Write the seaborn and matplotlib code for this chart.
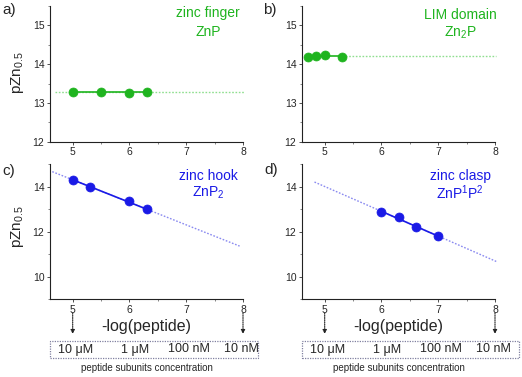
import numpy as np
import pandas as pd
import matplotlib
matplotlib.use("Agg")
import matplotlib.pyplot as plt
from matplotlib.patches import Rectangle
from matplotlib.ticker import MultipleLocator
import seaborn as sns

# ---------------- data ----------------
a_x = [5.0, 5.5, 6.0, 6.3]
a_y = [13.28, 13.28, 13.25, 13.27]
b_x = [4.7, 4.85, 5.0, 5.3]
b_y = [14.18, 14.22, 14.24, 14.18]
c_x = [5.0, 5.3, 6.0, 6.3]
c_y = [14.29, 13.98, 13.36, 13.0]
d_x = [6.0, 6.3, 6.6, 7.0]
d_y = [12.87, 12.63, 12.2, 11.8]

a_fit_solid = ([5.0, 6.3], [13.27, 13.27])
a_fit_dot = ([4.68, 8.02], [13.27, 13.27])
b_fit_solid = ([4.7, 5.3], [14.2, 14.2])
b_fit_dot = ([5.3, 8.02], [14.2, 14.2])
c_fit_solid = ([5.0, 6.3], [14.3, 13.0])
c_fit_dot = ([4.64, 7.94], [14.66, 11.36])
d_fit_solid = ([6.0, 7.0], [12.9, 11.8])
d_fit_dot = ([4.82, 8.03], [14.2, 10.67])

titles_a = ["zinc finger", "ZnP"]
titles_b = ["LIM domain", r"Zn$_2$P"]
titles_c = ["zinc hook", r"ZnP$_2$"]
titles_d = ["zinc clasp", r"ZnP$^{\it{1}}$P$^2$"]
panel_labels = ["a)", "b)", "c)", "d)"]

conc_labels = ["10 \u03bcM", "1 \u03bcM", "100 nM", "10 nM"]
conc_pos = [5.05, 6.1, 7.05, 7.98]
xticks = [5, 6, 7, 8]

GREEN = "#1fb41f"
GREEN_L = "#8fdf8f"
BLUE = "#1a1ae6"
BLUE_L = "#8a8af0"

# ---------------- style ----------------
sns.set_style("ticks")
plt.rcParams["font.family"] = ["Liberation Sans", "DejaVu Sans"]
plt.rcParams["mathtext.fontset"] = "custom"
plt.rcParams["mathtext.rm"] = "Liberation Sans"
plt.rcParams["mathtext.it"] = "Liberation Sans:italic"
plt.rcParams["mathtext.default"] = "regular"

W, H = 522, 377
fig = plt.figure(figsize=(W / 100, H / 100), dpi=100)


def px_axes(left, top, right, bottom):
    return fig.add_axes([left / W, 1 - bottom / H, (right - left) / W, (bottom - top) / H])


ax_a = px_axes(50, 6, 243, 141.7)
ax_b = px_axes(302, 6, 495, 141.7)
ax_c = px_axes(50, 164, 243, 299.3)
ax_d = px_axes(302, 164, 495, 299.3)


def draw(ax, xs, ys, solid, dot, color, light, titles, ylim, ymaj, ymin):
    df = pd.DataFrame({"x": xs, "y": ys})
    sns.lineplot(x=dot[0], y=dot[1], ax=ax, color=light, lw=1.0, linestyle=(0, (1.2, 1.2)))
    sns.lineplot(x=solid[0], y=solid[1], ax=ax, color=color, lw=1.2)
    sns.scatterplot(data=df, x="x", y="y", ax=ax, color=color, s=42, edgecolor=color,
                    linewidth=0.5, zorder=5, clip_on=False)
    for ln in ax.get_lines():
        ln.set_clip_on(False)
    ax.set_xlim(4.6, 8.0)
    ax.set_ylim(*ylim)
    ax.set_xticks(xticks)
    ax.xaxis.set_minor_locator(MultipleLocator(0.5))
    ax.yaxis.set_major_locator(MultipleLocator(ymaj))
    ax.yaxis.set_minor_locator(MultipleLocator(ymin))
    ax.tick_params(axis="both", which="major", labelsize=7.5, length=2.5, width=0.6, pad=1.5,
                   color="#333333")
    ax.tick_params(axis="both", which="minor", length=1.5, width=0.5, color="#555555")
    for s in ["left", "bottom"]:
        ax.spines[s].set_linewidth(0.8)
        ax.spines[s].set_color("#222222")
    sns.despine(ax=ax)
    ax.set_xlabel("")
    ax.set_ylabel("")
    ax.text(0.82, 0.87, titles[0], transform=ax.transAxes, ha="center", va="center",
            color=color, fontsize=10)
    ax.text(0.82, 0.72, titles[1], transform=ax.transAxes, ha="center", va="center",
            color=color, fontsize=10)


draw(ax_a, a_x, a_y, a_fit_solid, a_fit_dot, GREEN, GREEN_L, titles_a, (12, 15.5), 1, 0.5)
draw(ax_b, b_x, b_y, b_fit_solid, b_fit_dot, GREEN, GREEN_L, titles_b, (12, 15.5), 1, 0.5)
draw(ax_c, c_x, c_y, c_fit_solid, c_fit_dot, BLUE, BLUE_L, titles_c, (9, 15), 2, 1)
draw(ax_d, d_x, d_y, d_fit_solid, d_fit_dot, BLUE, BLUE_L, titles_d, (9, 15), 2, 1)

# fix title vertical positions per panel
for ax, y1, y2 in [(ax_a, 0.948, 0.81), (ax_b, 0.93, 0.80), (ax_c, 0.91, 0.786), (ax_d, 0.91, 0.786)]:
    t = ax.texts
    t[0].set_y(y1)
    t[1].set_y(y2)

# y labels
for ax, yc in [(ax_a, 73), (ax_c, 227)]:
    fig.text(17 / W, 1 - yc / H, r"pZn$_{0.5}$", rotation=90, ha="center", va="center",
             fontsize=11)

# panel labels
for lab, (x, y) in zip(panel_labels, [(2, 10), (263, 10), (2, 171), (264, 170)]):
    fig.text(x / W, 1 - y / H, lab, ha="left", va="center", fontsize=11)

# bottom annotations
for ax, box_right in [(ax_c, 258), (ax_d, 519)]:
    ax.text(0.5, (299.3 - 326) / 135.3, "-log(peptide)", transform=ax.transAxes,
            ha="center", va="center", fontsize=11.5)
    tr = ax.get_xaxis_transform()
    for xv in [5, 8]:
        ax.annotate("", xy=(xv, (299.3 - 334) / 135.3), xytext=(xv, (299.3 - 313) / 135.3),
                    xycoords=tr, textcoords=tr,
                    arrowprops=dict(arrowstyle="-|>", linestyle=(0, (1, 1)), lw=0.8,
                                    color="#222222", mutation_scale=6, shrinkA=0, shrinkB=0),
                    annotation_clip=False)
    left_px = ax.get_position().x0 * W
    y_top = (299.3 - 341) / 135.3
    y_bot = (299.3 - 358) / 135.3
    rect = Rectangle((0, y_bot), (box_right - left_px) / 193, y_top - y_bot,
                     transform=ax.transAxes, fill=False, edgecolor="#8080a0", lw=0.9,
                     linestyle=(0, (1, 1)), clip_on=False)
    ax.add_patch(rect)
    for lab, xp in zip(conc_labels, conc_pos):
        ax.text(xp, (y_top + y_bot) / 2, lab, transform=tr, ha="center", va="center",
                fontsize=9)
    ax.text(0.5, (299.3 - 368) / 135.3, "peptide subunits concentration",
            transform=ax.transAxes, ha="center", va="center", fontsize=7)

fig.savefig("out.png", dpi=100)
